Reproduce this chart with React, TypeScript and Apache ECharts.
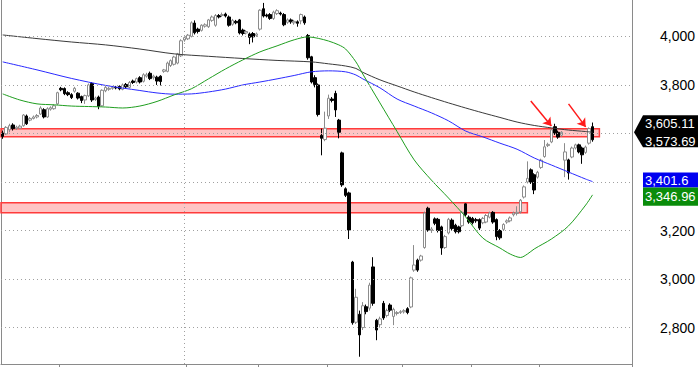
import React, { useEffect, useRef } from "react";
import * as echarts from "echarts";

// ---- data ----
const SLOT_COUNT = 184;
const categories: string[] = Array.from({ length: SLOT_COUNT }, (_, i) => `D${i + 1}`);

// [open, close, low, high]
const candles: number[][] = [
  [3602, 3588, 3578, 3612], [3598, 3625, 3594, 3630], [3615, 3632, 3605, 3640], [3635, 3620, 3612, 3642],
  [3620, 3626, 3615, 3632], [3622, 3630, 3618, 3636], [3632, 3676, 3628, 3680], [3672, 3640, 3635, 3678],
  [3655, 3662, 3650, 3668], [3662, 3668, 3658, 3674], [3668, 3674, 3662, 3680], [3680, 3705, 3676, 3712],
  [3698, 3668, 3662, 3704], [3668, 3702, 3664, 3708], [3700, 3706, 3694, 3712], [3702, 3714, 3698, 3720],
  [3722, 3768, 3718, 3772], [3786, 3780, 3774, 3792], [3785, 3764, 3758, 3790], [3768, 3760, 3754, 3774],
  [3760, 3748, 3742, 3766], [3774, 3786, 3768, 3792], [3766, 3746, 3740, 3770], [3752, 3736, 3725, 3756],
  [3738, 3756, 3722, 3760], [3755, 3800, 3750, 3806], [3806, 3738, 3730, 3812], [3740, 3746, 3734, 3752],
  [3750, 3712, 3700, 3756], [3714, 3778, 3710, 3782], [3776, 3790, 3770, 3796], [3782, 3786, 3776, 3792],
  [3786, 3790, 3780, 3796], [3790, 3788, 3782, 3796], [3794, 3784, 3778, 3798], [3782, 3800, 3778, 3806],
  [3802, 3792, 3786, 3808], [3790, 3810, 3786, 3816], [3816, 3810, 3804, 3822], [3812, 3826, 3806, 3830],
  [3830, 3812, 3806, 3836], [3815, 3842, 3810, 3848], [3836, 3842, 3830, 3850], [3848, 3826, 3820, 3855],
  [3830, 3836, 3822, 3842], [3832, 3816, 3800, 3838], [3836, 3814, 3798, 3840], [3856, 3862, 3850, 3866],
  [3856, 3890, 3852, 3896], [3880, 3900, 3874, 3905], [3885, 3915, 3880, 3920], [3890, 3928, 3885, 3932],
  [3920, 3982, 3915, 3988], [3985, 3995, 3978, 4000], [3990, 4005, 3985, 4010], [4000, 4056, 3996, 4062],
  [4055, 4015, 4008, 4066], [4030, 4020, 4012, 4036], [4025, 4046, 4020, 4050], [4042, 4048, 4036, 4054],
  [4040, 4068, 4035, 4072], [4066, 4080, 4060, 4086], [4046, 4086, 4040, 4092], [4086, 4080, 4074, 4092],
  [4086, 4090, 4080, 4098], [4092, 4084, 4078, 4098], [4080, 4046, 4040, 4086], [4050, 4066, 4044, 4072],
  [4062, 4056, 4050, 4068], [4068, 4014, 4008, 4072], [4026, 4012, 4004, 4032], [4014, 4020, 4008, 4026],
  [4010, 3996, 3968, 4016], [4012, 3998, 3975, 4018], [4004, 4010, 3998, 4016], [4030, 4108, 4024, 4112],
  [4114, 4084, 4078, 4138], [4088, 4084, 4078, 4094], [4090, 4074, 4068, 4096], [4074, 4100, 4068, 4106],
  [4094, 4106, 4088, 4112], [4096, 4092, 4086, 4102], [4090, 4048, 4042, 4096], [4058, 4068, 4052, 4074],
  [4068, 4060, 4052, 4074], [4056, 4062, 4048, 4068], [4060, 4054, 4040, 4066], [4064, 4090, 4050, 4094],
  [4080, 4056, 4048, 4086], [4004, 3912, 3904, 4010], [3916, 3812, 3806, 3920], [3830, 3802, 3790, 3840],
  [3800, 3678, 3670, 3806], [3592, 3580, 3510, 3620], [3575, 3622, 3568, 3690], [3672, 3745, 3660, 3760],
  [3742, 3736, 3728, 3750], [3765, 3697, 3668, 3776], [3655, 3605, 3580, 3660], [3520, 3388, 3380, 3525],
  [3372, 3345, 3338, 3378], [3355, 3202, 3165, 3360], [3070, 2820, 2812, 3075], [2822, 2925, 2815, 2960],
  [2855, 2770, 2680, 2870], [2800, 2890, 2790, 2905], [2886, 2866, 2855, 2895], [2880, 2975, 2870, 2985],
  [3050, 2900, 2890, 3090], [2830, 2790, 2748, 2836], [2812, 2836, 2800, 2845], [2900, 2840, 2832, 2910],
  [2850, 2870, 2842, 2878], [2893, 2872, 2864, 2900], [2846, 2875, 2810, 2882], [2858, 2862, 2850, 2868],
  [2862, 2866, 2856, 2872], [2865, 2870, 2858, 2876], [2878, 2862, 2855, 2884], [2885, 3005, 2880, 3010],
  [3037, 3058, 3030, 3140], [3078, 3037, 3030, 3084], [3078, 3095, 3072, 3100], [3130, 3272, 3125, 3278],
  [3292, 3202, 3195, 3298], [3200, 3206, 3190, 3214], [3248, 3230, 3222, 3254], [3246, 3200, 3192, 3252],
  [3215, 3128, 3100, 3220], [3130, 3175, 3124, 3182], [3190, 3246, 3184, 3252], [3243, 3208, 3200, 3250],
  [3222, 3195, 3188, 3228], [3215, 3195, 3188, 3220], [3220, 3275, 3214, 3280], [3310, 3265, 3258, 3312],
  [3255, 3235, 3228, 3262], [3250, 3232, 3225, 3256], [3245, 3240, 3232, 3252], [3245, 3210, 3202, 3250],
  [3232, 3250, 3226, 3256], [3235, 3262, 3230, 3268], [3255, 3272, 3250, 3278], [3275, 3235, 3228, 3280],
  [3245, 3175, 3160, 3250], [3200, 3170, 3162, 3206], [3205, 3225, 3198, 3230], [3235, 3240, 3228, 3246],
  [3240, 3252, 3234, 3258], [3265, 3272, 3258, 3278], [3270, 3275, 3262, 3300], [3277, 3325, 3270, 3330],
  [3338, 3380, 3332, 3386], [3400, 3415, 3394, 3485], [3450, 3400, 3392, 3456], [3430, 3367, 3350, 3436],
  [3420, 3440, 3414, 3446], [3460, 3490, 3454, 3496], [3505, 3545, 3500, 3573], [3550, 3555, 3544, 3562],
  [3565, 3615, 3560, 3620], [3628, 3602, 3594, 3640], [3605, 3585, 3578, 3612], [3593, 3605, 3586, 3610],
  [3490, 3524, 3420, 3560], [3491, 3437, 3410, 3496], [3503, 3540, 3498, 3546], [3540, 3553, 3534, 3558],
  [3553, 3524, 3518, 3558], [3540, 3512, 3475, 3546], [3522, 3544, 3516, 3550], [3560, 3620, 3554, 3625],
  [3628, 3574, 3566, 3645],
];

// moving averages: [slot index, value]
const maLong: number[][] = [
  [0, 4006], [10, 3991], [20, 3977], [30, 3965], [40, 3948], [50, 3928], [60, 3918], [70, 3909],
  [80, 3901], [90, 3895], [95, 3887], [100, 3878], [103, 3868], [105, 3852], [110, 3821], [115, 3796],
  [120, 3771], [125, 3748], [130, 3726], [135, 3705], [140, 3685], [145, 3666], [150, 3647], [155, 3633],
  [160, 3623], [165, 3614], [170, 3608], [172, 3605.11],
];
const maMid: number[][] = [
  [0, 3895], [10, 3862], [20, 3827], [30, 3798], [40, 3777], [45, 3767], [50, 3762], [55, 3763],
  [60, 3771], [65, 3783], [70, 3800], [75, 3812], [80, 3825], [85, 3839], [90, 3854], [95, 3858],
  [100, 3854], [103, 3841], [105, 3825], [110, 3788], [115, 3742], [120, 3713], [125, 3685], [130, 3652],
  [135, 3610], [140, 3586], [145, 3560], [150, 3535], [155, 3499], [160, 3470], [165, 3441], [170, 3412],
  [172, 3401.6],
];
const maShort: number[][] = [
  [0, 3763], [5, 3738], [10, 3722], [15, 3718], [20, 3713], [25, 3711], [30, 3709], [35, 3705],
  [40, 3713], [45, 3732], [50, 3759], [55, 3784], [60, 3825], [65, 3866], [70, 3903], [75, 3936],
  [80, 3961], [85, 3986], [89, 3998], [92, 3992], [95, 3981], [98, 3965], [100, 3948], [103, 3895],
  [105, 3845], [110, 3726], [115, 3608], [120, 3491], [125, 3408], [130, 3334], [135, 3256], [140, 3169],
  [145, 3128], [148, 3103], [151, 3089], [153, 3103], [155, 3124], [160, 3165], [165, 3219], [170, 3305],
  [172, 3346.96],
];

const gridLevels = [2800, 3000, 3200, 3400, 3600, 3800, 4000];
const axisLabelLevels = [2800, 3000, 3200, 3800, 4000];
const tickSlots = [17, 54, 75, 95, 117, 137, 157];
const dividerSlot = 53;

const resistanceBand = [3586, 3619];
const resistanceEndSlot = 174;
const supportBand = [3273, 3315];
const supportEndSlot = 153;

const arrowLines: number[][][] = [
  [[154, 3734], [160, 3631]],
  [[165, 3722], [170, 3627]],
];

const tagLong = 3605.11;
const tagClose = 3573.69;
const tagMid = 3401.6;
const tagShort = 3346.96;

const Y_MIN = 2650;
const Y_MAX = 4150;
const W = 698;
const H = 367;
const GRID_RIGHT = 64;
const FONT = '"Liberation Sans", Arial, sans-serif';

const fmt = (v: number) => v.toLocaleString("en-US", { maximumFractionDigits: 2 });

export default function App() {
  const ref = useRef<HTMLDivElement>(null);

  useEffect(() => {
    if (!ref.current) return;
    const chart = echarts.init(ref.current, null, { renderer: "svg" });

    const dotted = { color: "#a0a0a0", type: [1, 3], width: 1 };

    const option: any = {
      animation: false,
      backgroundColor: "#ffffff",
      grid: { left: 1, right: GRID_RIGHT, top: 0, bottom: 3, containLabel: false },
      xAxis: {
        type: "category",
        data: categories,
        boundaryGap: true,
        axisLine: { show: true, lineStyle: { color: "#8a8a8a", width: 1 } },
        axisTick: {
          show: true,
          interval: (i: number) => tickSlots.includes(i),
          length: 4,
          lineStyle: { color: "#8a8a8a" },
        },
        axisLabel: { show: false },
        splitLine: { show: false },
      },
      yAxis: [
        {
          type: "value",
          position: "right",
          min: Y_MIN,
          max: Y_MAX,
          interval: 50,
          axisLine: { show: true, lineStyle: { color: "#8a8a8a", width: 1 } },
          axisTick: { show: false },
          splitLine: { show: false },
          axisLabel: {
            margin: 28,
            color: "#000000",
            fontSize: 14,
            fontFamily: FONT,
            formatter: (v: number) => (axisLabelLevels.includes(v) ? fmt(v) : ""),
          },
        },
        {
          type: "value",
          position: "left",
          min: Y_MIN,
          max: Y_MAX,
          axisLine: { show: true, lineStyle: { color: "#8a8a8a", width: 1 } },
          axisTick: { show: false },
          axisLabel: { show: false },
          splitLine: { show: false },
        },
      ],
      series: [
        {
          type: "candlestick",
          data: candles,
          barWidth: 3,
          itemStyle: {
            color: "#ffffff",
            color0: "#000000",
            borderColor: "#8c8c8c",
            borderColor0: "#000000",
            borderWidth: 1,
          },
          markLine: {
            silent: true,
            symbol: ["none", "none"],
            label: { show: false },
            lineStyle: dotted,
            emphasis: { disabled: true },
            data: [
              ...gridLevels.map((v) => ({ yAxis: v })),
              { xAxis: categories[dividerSlot] },
            ],
          },
          markArea: {
            silent: true,
            itemStyle: {
              color: "rgba(255, 70, 70, 0.32)",
              borderColor: "#ff3b3b",
              borderWidth: 1.5,
            },
            data: [
              [{ yAxis: resistanceBand[0] }, { xAxis: resistanceEndSlot, yAxis: resistanceBand[1] }],
              [{ yAxis: supportBand[0] }, { xAxis: supportEndSlot, yAxis: supportBand[1] }],
            ],
          },
          z: 2,
        },
        {
          type: "line",
          data: maLong,
          symbol: "none",
          smooth: 0.3,
          lineStyle: { color: "#3a3a3a", width: 1 },
          z: 3,
          markLine: {
            silent: true,
            symbol: ["none", "arrow"],
            symbolSize: 8,
            label: { show: false },
            lineStyle: { color: "#ff1a1a", width: 1.5, type: "solid" },
            data: arrowLines.map(([a, b]) => [{ coord: a }, { coord: b }]),
          },
        },
        {
          type: "line",
          data: maMid,
          symbol: "none",
          smooth: 0.3,
          lineStyle: { color: "#2a2aff", width: 1 },
          z: 3,
        },
        {
          type: "line",
          data: maShort,
          symbol: "none",
          smooth: 0.3,
          lineStyle: { color: "#1f9e1f", width: 1 },
          z: 3,
        },
      ],
    };

    chart.setOption(option);

    const yOf = (v: number) => chart.convertToPixel({ yAxisIndex: 0 }, v) as number;
    const axisX = W - GRID_RIGHT;
    const boxX = axisX + 9;
    const textX = 645;
    const yL = yOf(tagLong);
    const yM = yOf(tagMid);
    const yS = yOf(tagShort);
    const blackTop = yL - 17;
    const blackBottom = yL + 15;
    const blueTop = yM - 9;
    const blueBottom = yM + 6;
    const greenBottom = yS + 11;

    const textStyle = (text: string, fill: string) => ({
      text,
      fill,
      font: `13px ${FONT}`,
      align: "left",
      verticalAlign: "middle",
      textAlign: "left",
      textVerticalAlign: "middle",
    });

    chart.setOption({
      graphic: [
        {
          type: "polygon",
          z: 100,
          shape: {
            points: [
              [axisX, yL],
              [boxX, blackTop],
              [W, blackTop],
              [W, blackBottom],
              [boxX, blackBottom],
            ],
          },
          style: { fill: "#000000" },
        },
        { type: "text", z: 101, x: textX, y: blackTop + 8, style: textStyle(fmt(tagLong), "#ffffff") },
        { type: "text", z: 101, x: textX, y: blackBottom - 6, style: textStyle(fmt(tagClose), "#ffffff") },
        {
          type: "rect",
          z: 100,
          shape: { x: boxX, y: blueTop, width: W - boxX, height: blueBottom - blueTop },
          style: { fill: "#0000f0" },
        },
        { type: "text", z: 101, x: textX, y: (blueTop + blueBottom) / 2, style: textStyle(fmt(tagMid), "#ffffff") },
        {
          type: "rect",
          z: 100,
          shape: { x: boxX, y: blueBottom, width: W - boxX, height: greenBottom - blueBottom },
          style: { fill: "#0a8c0a" },
        },
        {
          type: "text",
          z: 101,
          x: textX,
          y: (blueBottom + greenBottom) / 2,
          style: textStyle(fmt(tagShort), "#ffffff"),
        },
      ],
    });

    return () => chart.dispose();
  }, []);

  return (
    <div
      ref={ref}
      style={{ position: "absolute", left: 0, top: 0, width: W, height: H, background: "#fff" }}
    />
  );
}
